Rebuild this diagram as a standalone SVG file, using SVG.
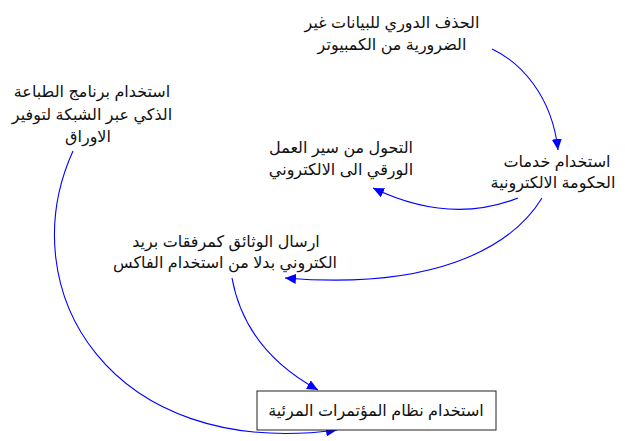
<svg xmlns="http://www.w3.org/2000/svg" width="625" height="441" viewBox="0 0 625 441">
<style>
text{font-family:"Liberation Sans","DejaVu Sans",sans-serif;font-size:16px;fill:#111;text-anchor:middle;direction:rtl}
.c{fill:none;stroke:#0000ff;stroke-width:1.1;marker-end:url(#ah)}
.box{fill:#fff;stroke:#222;stroke-width:1}
</style>
<defs>
<marker id="ah" markerUnits="userSpaceOnUse" markerWidth="12" markerHeight="10" refX="11" refY="5" orient="auto">
<path d="M0,0 L11,5 L0,10 Z" fill="#0000ff"/>
</marker>
</defs>
<rect width="625" height="441" fill="#fff"/>
<g id="connectors">
<path class="c" d="M492,49 C520,62 552,95 558,150"/>
<path class="c" d="M518,198 Q450,225 373,188"/>
<path class="c" d="M542,198 C510,250 430,290 285,278"/>
<path class="c" d="M232,278 Q245,350 318,390"/>
<path class="c" d="M73,151 C10,290 110,460 337,430"/>
</g>
<g id="n1"><text x="392" y="28">الحذف الدوري للبيانات غير</text><text x="392" y="50">الضرورية من الكمبيوتر</text></g>
<g id="n2"><text x="92" y="97">استخدام برنامج الطباعة</text><text x="92" y="120">الذكي عبر الشبكة لتوفير</text><text x="88" y="142">الاوراق</text></g>
<g id="n3"><text x="341" y="153">التحول من سير العمل</text><text x="341" y="175">الورقي الى الالكتروني</text></g>
<g id="n4"><text x="557" y="167">استخدام خدمات</text><text x="553" y="188">الحكومة الالكترونية</text></g>
<g id="n5"><text x="226" y="247">ارسال الوثائق كمرفقات بريد</text><text x="225" y="268">الكتروني بدلا من استخدام الفاكس</text></g>
<g id="n6"><rect class="box" x="257" y="391" width="239" height="39"/><text x="376" y="416">استخدام نظام المؤتمرات المرئية</text></g>
</svg>
